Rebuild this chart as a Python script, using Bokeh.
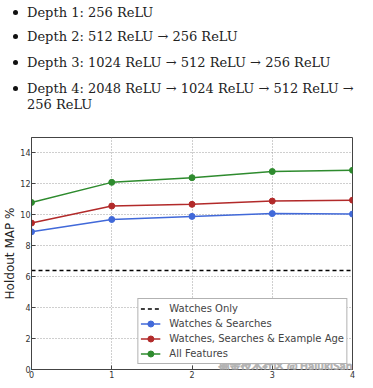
from bokeh.plotting import figure
from bokeh.layouts import column
from bokeh.models import Range1d, FixedTicker, Legend, LegendItem, Label, Div
from bokeh.embed import file_html
from bokeh.resources import INLINE

# ---- data ----
bullet_lines = [
    "Depth 1: 256 ReLU",
    "Depth 2: 512 ReLU \u2192 256 ReLU",
    "Depth 3: 1024 ReLU \u2192 512 ReLU \u2192 256 ReLU",
    "Depth 4: 2048 ReLU \u2192 1024 ReLU \u2192 512 ReLU \u2192",
    "256 ReLU",
]
bullet_flags = [True, True, True, True, False]
line_top = [5, 29, 55, 81, 97]

depth = [0, 1, 2, 3, 4]
watches_only = [6.4, 6.4, 6.4, 6.4, 6.4]
watches_searches = [8.9, 9.7, 9.9, 10.08, 10.05]
watches_searches_age = [9.47, 10.57, 10.68, 10.89, 10.95]
all_features = [10.8, 12.1, 12.4, 12.8, 12.88]

x_ticks = [0, 1, 2, 3, 4]
y_ticks = [0, 2, 4, 6, 8, 10, 12, 14]

W = 365
TH = 126
# ---- text block ----
parts = []
for txt, top, flag in zip(bullet_lines, line_top, bullet_flags):
    if flag:
        parts.append(
            f'<div style="position:absolute;left:13px;top:{top + 5}px;width:5px;height:5px;'
            f'border-radius:50%;background:#111;"></div>')
    parts.append(
        f'<div style="position:absolute;left:27px;top:{top}px;line-height:15px;'
        f'white-space:nowrap;">{txt}</div>')
html = (f'<div style="position:relative;width:{W}px;height:{TH}px;'
        'font-family:\'DejaVu Serif\';font-size:13px;color:#222;">' + "".join(parts) + "</div>")
tf = Div(text=html, width=W, height=TH, margin=0)

# ---- chart ----
p = figure(width=W, height=380 - TH, output_backend="svg", toolbar_location=None,
           x_range=Range1d(0, 4), y_range=Range1d(0, 15),
           min_border_left=17, min_border_right=13, min_border_top=11, min_border_bottom=11)
p.outline_line_color = "#444444"
p.outline_line_width = 1
p.xaxis.ticker = FixedTicker(ticks=x_ticks)
p.yaxis.ticker = FixedTicker(ticks=y_ticks)
for ax in (p.xaxis[0], p.yaxis[0]):
    ax.major_tick_in = 4
    ax.major_tick_out = 0
    ax.minor_tick_line_color = None
    ax.axis_line_color = "#444444"
    ax.major_tick_line_color = "#444444"
    ax.major_label_text_font = "DejaVu Sans"
    ax.major_label_text_font_size = "8px"
    ax.major_label_text_color = "#333333"
    ax.major_label_standoff = 1
p.yaxis.axis_label = "Holdout MAP %"
p.yaxis.axis_label_text_font = "DejaVu Sans"
p.yaxis.axis_label_text_font_size = "12px"
p.yaxis.axis_label_text_font_style = "normal"
p.yaxis.axis_label_text_color = "#222222"
p.yaxis.axis_label_standoff = 0
p.grid.grid_line_color = "#888888"
p.grid.grid_line_dash = "1 2"
p.grid.grid_line_alpha = 0.8

r0 = p.line(depth, watches_only, color="black", line_width=1.5, line_dash="4 3")
items = [LegendItem(label="Watches Only", renderers=[r0])]
series = [
    ("Watches & Searches", watches_searches, "#4169d9"),
    ("Watches, Searches & Example Age", watches_searches_age, "#b22a2a"),
    ("All Features", all_features, "#2e8b2e"),
]
for name, ys, col in series:
    l = p.line(depth, ys, color=col, line_width=1.5)
    s = p.scatter(depth, ys, size=6, color=col)
    items.append(LegendItem(label=name, renderers=[l, s]))

leg = Legend(items=items, location="bottom_right", margin=5, padding=2, spacing=0,
             label_text_font="DejaVu Sans", label_text_font_size="10px",
             label_height=15, glyph_height=15, glyph_width=20, label_standoff=9,
             border_line_color="#666666", background_fill_alpha=1)
p.add_layout(leg, "center")

wm = Label(x=4, y=0, x_units="data", y_units="data", text="掘金技术社区 @ HalukiSan",
           text_font="Noto Sans CJK SC", text_font_size="11px", text_align="right",
           text_baseline="middle", level="overlay",
           text_color="#f6f6f6", text_alpha=0.9, text_outline_color="#aaaaaa",
           x_offset=0, y_offset=5)
p.add_layout(wm)

out = column(tf, p, spacing=0)
open("out.html", "w").write(file_html(out, INLINE))
